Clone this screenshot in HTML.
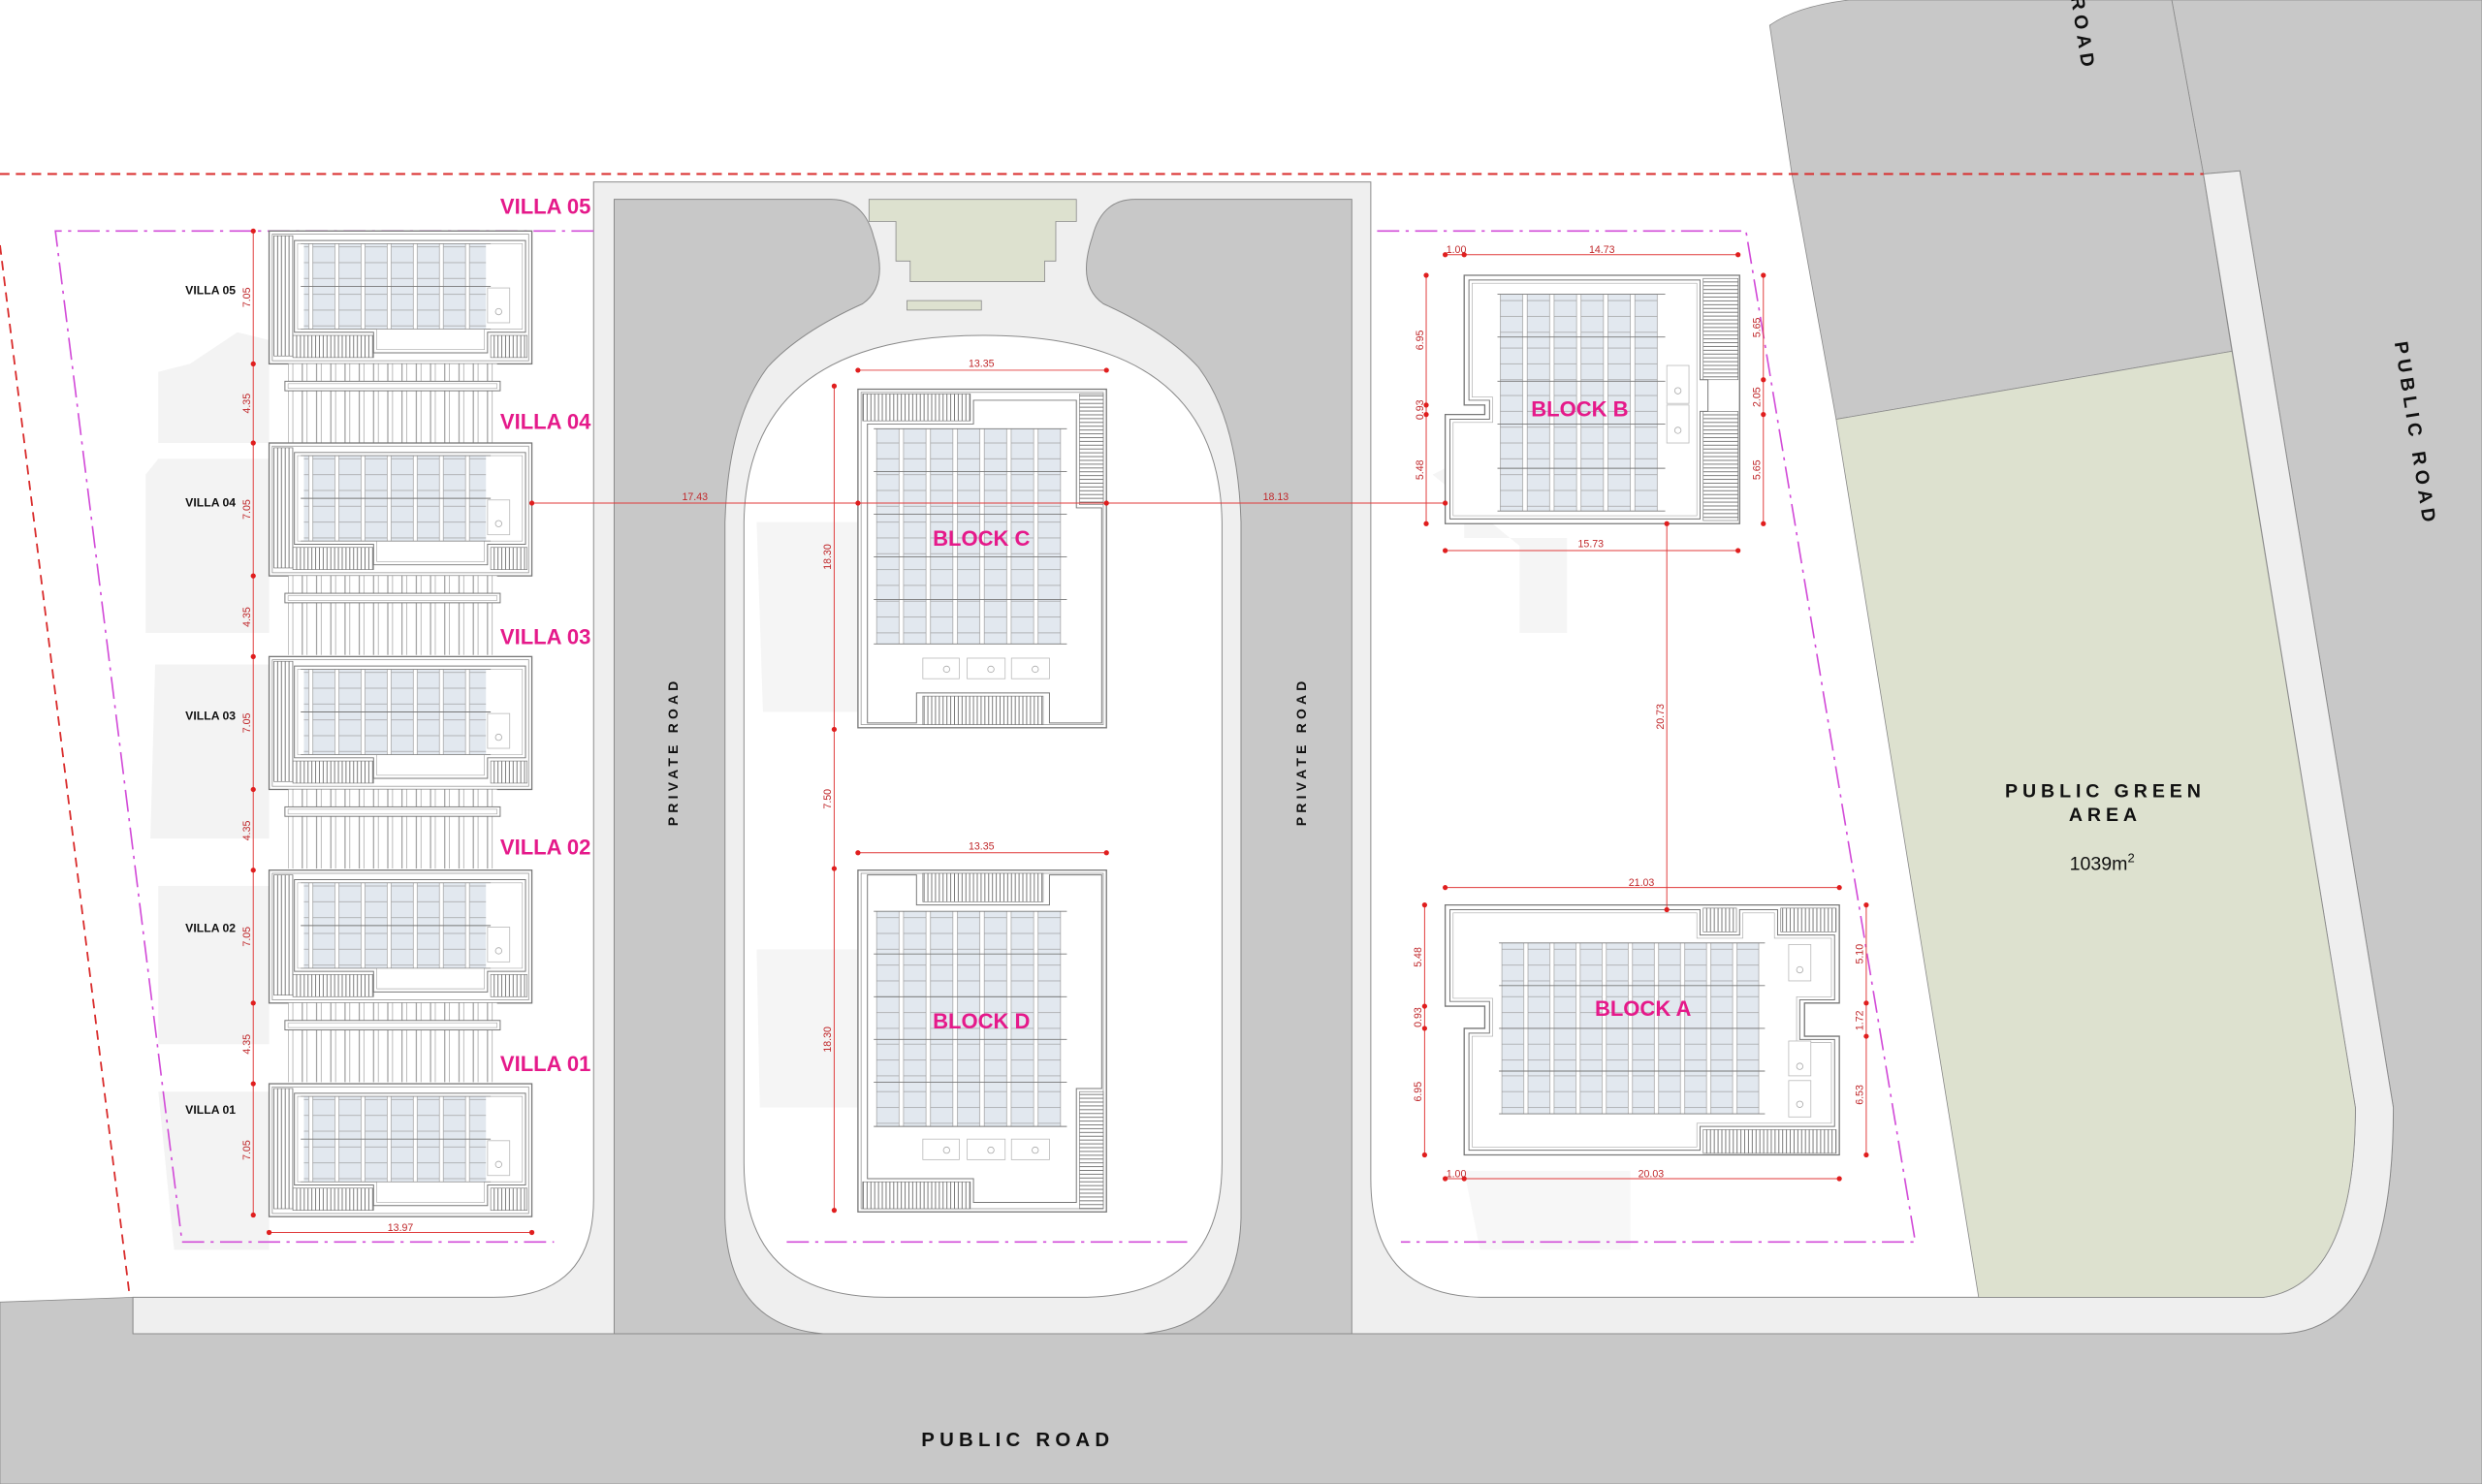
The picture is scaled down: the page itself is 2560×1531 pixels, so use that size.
<!DOCTYPE html>
<html><head><meta charset="utf-8"><style>
html,body{margin:0;padding:0;background:#fff;}
svg{display:block;}
.t{font-family:"Liberation Sans",sans-serif;}
.n{font-family:"Liberation Sans Narrow","Liberation Sans",sans-serif;}
</style></head><body>
<svg width="2560" height="1531" viewBox="0 0 1568 938" preserveAspectRatio="none" xmlns="http://www.w3.org/2000/svg">
<defs>
<pattern id="hv" width="2.4" height="4" patternUnits="userSpaceOnUse"><rect width="2.4" height="4" fill="#fff"/><line x1="0.6" y1="0" x2="0.6" y2="4" stroke="#6e6e6e" stroke-width="0.55"/></pattern>
<pattern id="hh" width="4" height="2.4" patternUnits="userSpaceOnUse"><rect width="4" height="2.4" fill="#fff"/><line x1="0" y1="0.6" x2="4" y2="0.6" stroke="#6e6e6e" stroke-width="0.55"/></pattern>
<pattern id="sl" width="9" height="4" patternUnits="userSpaceOnUse" x="182"><rect width="9" height="4" fill="#fff"/><line x1="1" y1="0" x2="1" y2="4" stroke="#888" stroke-width="0.6"/><line x1="4" y1="0" x2="4" y2="4" stroke="#999" stroke-width="0.4"/></pattern>
<pattern id="pv" width="16.5" height="10" patternUnits="userSpaceOnUse" x="192"><rect x="0.6" width="14" height="10" fill="#e2e8ef" stroke="#9a9a9a" stroke-width="0.4"/></pattern>
<pattern id="pc" width="17" height="10" patternUnits="userSpaceOnUse" x="553"><rect x="0.8" width="14.2" height="10" fill="#e2e8ef" stroke="#9a9a9a" stroke-width="0.4"/></pattern>
<pattern id="pb" width="17" height="10" patternUnits="userSpaceOnUse" x="947"><rect x="0.8" width="14.2" height="10" fill="#e2e8ef" stroke="#9a9a9a" stroke-width="0.4"/></pattern>
<pattern id="pa" width="16.5" height="10" patternUnits="userSpaceOnUse" x="948"><rect x="0.8" width="13.8" height="10" fill="#e2e8ef" stroke="#9a9a9a" stroke-width="0.4"/></pattern>
<g id="villa">
 <rect x="0" y="0" width="166" height="84" fill="#fff" stroke="#777" stroke-width="0.8"/>
 <rect x="2" y="2" width="162" height="80" fill="none" stroke="#999" stroke-width="0.5"/>
 <rect x="3" y="3" width="12" height="76" fill="url(#hv)" stroke="#777" stroke-width="0.4"/>
 <rect x="15" y="66" width="51" height="14" fill="url(#hv)" stroke="#777" stroke-width="0.4"/>
 <rect x="140" y="66" width="23" height="14" fill="url(#hv)" stroke="#777" stroke-width="0.4"/>
 <path d="M16,6 H162 V64 H138 V77 H66 V64 H16 Z" fill="#fff" stroke="#777" stroke-width="0.6"/>
 <path d="M18,8 H160 V62 H136 V75 H68 V62 H18 Z" fill="none" stroke="#aaa" stroke-width="0.4"/>
 <rect x="22" y="8" width="115" height="54" fill="url(#pv)"/>
 <line x1="20" y1="8" x2="140" y2="8" stroke="#888" stroke-width="0.5"/>
 <line x1="20" y1="35" x2="140" y2="35" stroke="#777" stroke-width="0.6"/>
 <line x1="20" y1="62" x2="140" y2="62" stroke="#888" stroke-width="0.5"/>
 <rect x="138" y="36" width="14" height="22" fill="#fff" stroke="#bbb" stroke-width="0.5"/>
 <circle cx="145" cy="51" r="2" fill="none" stroke="#aaa" stroke-width="0.5"/>
</g>
<g id="perg">
 <rect x="12" y="0" width="132" height="50" fill="url(#sl)"/>
 <rect x="10" y="11" width="136" height="6" fill="#fff" stroke="#777" stroke-width="0.6"/>
 <rect x="12" y="12.5" width="132" height="3" fill="none" stroke="#aaa" stroke-width="0.4"/>
</g>
</defs>

<rect width="1568" height="938" fill="#fff"/>

<path d="M0,823 L84,820 L84,843 H1440 Q1512,843 1512,700 L1415,108 L1392,110 L1372,0 H1568 V938 H0 Z" fill="#c8c8c8" stroke="#8a8a8a" stroke-width="0.5"/>
<path d="M1118,16 Q1135,4 1168,0 H1372 L1392,110 L1410,222 L1160,265 L1132,110 Z" fill="#c8c8c8" stroke="#8a8a8a" stroke-width="0.5"/>

<path d="M84,820 H312 Q375,820 375,758 V115 H866 V745 Q866,820 938,820 H1430 Q1488,812 1488,700 L1392,110 L1415,108 L1512,700 Q1512,843 1440,843 H84 Z" fill="#efefef" stroke="#8a8a8a" stroke-width="0.6"/>

<path d="M1160,265 L1410,222 L1488,700 Q1488,812 1430,820 L1250,820 Z" fill="#dde1cf" stroke="#8a8a8a" stroke-width="0.5"/>

<path d="M388,126 H525 Q546,126 552,150 Q562,180 545,192 Q505,210 485,232 Q460,265 458,330 V770 Q460,838 520,843 H388 Z" fill="#c8c8c8" stroke="#8a8a8a" stroke-width="0.6"/>
<path d="M854,126 H717 Q696,126 690,150 Q680,180 697,192 Q737,210 757,232 Q782,265 784,330 V770 Q782,838 722,843 H854 Z" fill="#c8c8c8" stroke="#8a8a8a" stroke-width="0.6"/>
<path d="M470,330 Q472,212 621,212 Q770,212 772,330 V735 Q772,820 682,820 H560 Q470,820 470,735 Z" fill="#fff" stroke="#8a8a8a" stroke-width="0.6"/>
<path d="M549,126 H680 V140 H667 V165 H660 V178 H575 V165 H566 V140 H549 Z" fill="#dde1cf" stroke="#8a8a8a" stroke-width="0.5"/>
<rect x="573" y="190" width="47" height="6" fill="#dde1cf" stroke="#8a8a8a" stroke-width="0.5"/>

<g fill="#f3f3f3">
 <path d="M120,230 L150,210 L170,215 V280 H100 V235 Z"/>
 <path d="M100,290 H170 V400 H92 V300 Z"/>
 <path d="M98,420 H170 V530 H95 Z"/>
 <path d="M100,560 H170 V660 H100 Z"/>
 <path d="M100,690 H170 V790 H110 Z"/>
 <path d="M478,330 H542 V450 H482 Z" fill="#f5f5f5"/>
 <path d="M478,600 H542 V700 H480 Z" fill="#f5f5f5"/>
 <path d="M905,300 L925,290 V340 H990 V400 H960 V345 Z" fill="#f5f5f5"/>
 <path d="M925,740 H1030 V790 H935 Z" fill="#f7f7f7"/>
</g>

<line x1="0" y1="110" x2="1392" y2="110" stroke="#d92b2b" stroke-width="1.2" stroke-dasharray="6,4"/>
<line x1="0" y1="155" x2="82" y2="820" stroke="#d92b2b" stroke-width="1.1" stroke-dasharray="6,4"/>
<g fill="none" stroke="#d24bd8" stroke-width="1" stroke-dasharray="14,4,2,4">
 <path d="M375,146 H35 L115,785 H350"/>
 <path d="M497,785 H750"/>
 <path d="M870,146 H1103 L1210,785 H885"/>
</g>

<use href="#villa" x="170" y="146"/>
<use href="#perg" x="170" y="230"/>
<use href="#villa" x="170" y="280"/>
<use href="#perg" x="170" y="364"/>
<use href="#villa" x="170" y="415"/>
<use href="#perg" x="170" y="499"/>
<use href="#villa" x="170" y="550"/>
<use href="#perg" x="170" y="634"/>
<use href="#villa" x="170" y="685"/>

<!-- BLOCK C -->
<rect x="542" y="246" width="157" height="214" fill="#fff" stroke="#777" stroke-width="0.8"/>
<rect x="544" y="248" width="153" height="210" fill="none" stroke="#999" stroke-width="0.5"/>
<rect x="545" y="249" width="68" height="17" fill="url(#hv)" stroke="#777" stroke-width="0.4"/>
<rect x="682" y="249" width="15" height="70" fill="url(#hh)" stroke="#777" stroke-width="0.4"/>
<rect x="583" y="440" width="76" height="18" fill="url(#hv)" stroke="#777" stroke-width="0.4"/>
<path d="M548,268 H615 V253 H680 V321 H696 V457 H663 V438 H579 V457 H548 Z" fill="#fff" stroke="#777" stroke-width="0.6"/>
<rect x="553" y="271" width="119" height="136" fill="url(#pc)"/>
<g stroke="#777" stroke-width="0.55"><line x1="552" y1="271" x2="674" y2="271"/><line x1="552" y1="298" x2="674" y2="298"/><line x1="552" y1="325" x2="674" y2="325"/><line x1="552" y1="352" x2="674" y2="352"/><line x1="552" y1="379" x2="674" y2="379"/><line x1="552" y1="407" x2="674" y2="407"/></g>
<g fill="#fff" stroke="#bbb" stroke-width="0.5"><rect x="583" y="416" width="23" height="13"/><rect x="611" y="416" width="24" height="13"/><rect x="639" y="416" width="24" height="13"/></g>
<g fill="none" stroke="#aaa" stroke-width="0.5"><circle cx="598" cy="423" r="2"/><circle cx="626" cy="423" r="2"/><circle cx="654" cy="423" r="2"/></g>
<text x="620" y="345" class="t" font-size="13.5" font-weight="bold" fill="#e5198a" text-anchor="middle">BLOCK C</text>

<!-- BLOCK D -->
<rect x="542" y="550" width="157" height="216" fill="#fff" stroke="#777" stroke-width="0.8"/>
<rect x="544" y="552" width="153" height="212" fill="none" stroke="#999" stroke-width="0.5"/>
<rect x="583" y="552" width="76" height="18" fill="url(#hv)" stroke="#777" stroke-width="0.4"/>
<rect x="545" y="747" width="68" height="17" fill="url(#hv)" stroke="#777" stroke-width="0.4"/>
<rect x="682" y="690" width="15" height="74" fill="url(#hh)" stroke="#777" stroke-width="0.4"/>
<path d="M548,553 H579 V572 H663 V553 H696 V688 H680 V760 H615 V745 H548 Z" fill="#fff" stroke="#777" stroke-width="0.6"/>
<rect x="553" y="576" width="119" height="136" fill="url(#pc)"/>
<g stroke="#777" stroke-width="0.55"><line x1="552" y1="576" x2="674" y2="576"/><line x1="552" y1="603" x2="674" y2="603"/><line x1="552" y1="630" x2="674" y2="630"/><line x1="552" y1="657" x2="674" y2="657"/><line x1="552" y1="684" x2="674" y2="684"/><line x1="552" y1="712" x2="674" y2="712"/></g>
<g fill="#fff" stroke="#bbb" stroke-width="0.5"><rect x="583" y="720" width="23" height="13"/><rect x="611" y="720" width="24" height="13"/><rect x="639" y="720" width="24" height="13"/></g>
<g fill="none" stroke="#aaa" stroke-width="0.5"><circle cx="598" cy="727" r="2"/><circle cx="626" cy="727" r="2"/><circle cx="654" cy="727" r="2"/></g>
<text x="620" y="650" class="t" font-size="13.5" font-weight="bold" fill="#e5198a" text-anchor="middle">BLOCK D</text>

<!-- BLOCK B -->
<path d="M925,174 H1099 V331 H913 V262 H938 V256 H925 Z" fill="#fff" stroke="#777" stroke-width="0.8"/>
<rect x="1076" y="176" width="22" height="64" fill="url(#hh)" stroke="#777" stroke-width="0.4"/>
<rect x="1076" y="260" width="22" height="69" fill="url(#hh)" stroke="#777" stroke-width="0.4"/>
<path d="M928,177 H1074 V240 H1079 V260 H1074 V328 H916 V265 H941 V253 H928 Z" fill="#fff" stroke="#777" stroke-width="0.6"/>
<path d="M930,179 H1072 V326 H918 V267 H943 V251 H930 Z" fill="none" stroke="#aaa" stroke-width="0.4"/>
<rect x="947" y="186" width="102" height="137" fill="url(#pb)"/>
<g stroke="#777" stroke-width="0.55"><line x1="946" y1="186" x2="1052" y2="186"/><line x1="946" y1="213" x2="1052" y2="213"/><line x1="946" y1="241" x2="1052" y2="241"/><line x1="946" y1="268" x2="1052" y2="268"/><line x1="946" y1="296" x2="1052" y2="296"/><line x1="946" y1="323" x2="1052" y2="323"/></g>
<g fill="#fff" stroke="#bbb" stroke-width="0.5"><rect x="1053" y="231" width="14" height="24"/><rect x="1053" y="256" width="14" height="24"/></g>
<g fill="none" stroke="#aaa" stroke-width="0.5"><circle cx="1060" cy="247" r="2"/><circle cx="1060" cy="272" r="2"/></g>
<text x="998" y="263" class="t" font-size="13.5" font-weight="bold" fill="#e5198a" text-anchor="middle">BLOCK B</text>

<!-- BLOCK A -->
<path d="M913,572 H1162 V634 H1140 V655 H1162 V730 H925 V650 H938 V636 H913 Z" fill="#fff" stroke="#777" stroke-width="0.8"/>
<rect x="1076" y="574" width="21" height="15" fill="url(#hv)" stroke="#777" stroke-width="0.4"/>
<rect x="1125" y="574" width="35" height="15" fill="url(#hv)" stroke="#777" stroke-width="0.4"/>
<rect x="1076" y="714" width="84" height="15" fill="url(#hv)" stroke="#777" stroke-width="0.4"/>
<path d="M916,575 H1074 V591 H1099 V575 H1123 V591 H1159 V632 H1137 V657 H1159 V712 H1074 V727 H928 V653 H941 V633 H916 Z" fill="#fff" stroke="#777" stroke-width="0.6"/>
<path d="M918,577 H1072 V593 H1101 V577 H1121 V593 H1157 V630 H1135 V659 H1157 V710 H1072 V725 H930 V655 H943 V631 H918 Z" fill="none" stroke="#aaa" stroke-width="0.4"/>
<rect x="948" y="596" width="165" height="108" fill="url(#pa)"/>
<g stroke="#777" stroke-width="0.55"><line x1="947" y1="596" x2="1115" y2="596"/><line x1="947" y1="623" x2="1115" y2="623"/><line x1="947" y1="650" x2="1115" y2="650"/><line x1="947" y1="677" x2="1115" y2="677"/><line x1="947" y1="704" x2="1115" y2="704"/></g>
<g fill="#fff" stroke="#bbb" stroke-width="0.5"><rect x="1130" y="597" width="14" height="23"/><rect x="1130" y="658" width="14" height="22"/><rect x="1130" y="683" width="14" height="23"/></g>
<g fill="none" stroke="#aaa" stroke-width="0.5"><circle cx="1137" cy="613" r="2"/><circle cx="1137" cy="674" r="2"/><circle cx="1137" cy="698" r="2"/></g>
<text x="1038" y="642" class="t" font-size="13.5" font-weight="bold" fill="#e5198a" text-anchor="middle">BLOCK A</text>

<g stroke="#e03a3a" stroke-width="0.6" fill="none">
 <line x1="160" y1="146" x2="160" y2="768"/>
 <line x1="170" y1="779" x2="336" y2="779"/>
 <line x1="336" y1="318" x2="913" y2="318"/>
 <line x1="527" y1="244" x2="527" y2="765"/>
 <line x1="542" y1="234" x2="699" y2="234"/>
 <line x1="542" y1="539" x2="699" y2="539"/>
 <line x1="913" y1="161" x2="1098" y2="161"/>
 <line x1="913" y1="348" x2="1098" y2="348"/>
 <line x1="901" y1="174" x2="901" y2="331"/>
 <line x1="1114" y1="174" x2="1114" y2="331"/>
 <line x1="1053" y1="331" x2="1053" y2="575"/>
 <line x1="913" y1="561" x2="1162" y2="561"/>
 <line x1="913" y1="745" x2="1162" y2="745"/>
 <line x1="900" y1="572" x2="900" y2="730"/>
 <line x1="1179" y1="572" x2="1179" y2="730"/>
</g>
<g fill="#e01e1e">
 <circle cx="160" cy="146" r="1.6"/><circle cx="160" cy="230" r="1.6"/><circle cx="160" cy="280" r="1.6"/><circle cx="160" cy="364" r="1.6"/><circle cx="160" cy="415" r="1.6"/><circle cx="160" cy="499" r="1.6"/><circle cx="160" cy="550" r="1.6"/><circle cx="160" cy="634" r="1.6"/><circle cx="160" cy="685" r="1.6"/><circle cx="160" cy="768" r="1.6"/>
 <circle cx="170" cy="779" r="1.6"/><circle cx="336" cy="779" r="1.6"/>
 <circle cx="336" cy="318" r="1.6"/><circle cx="542" cy="318" r="1.6"/><circle cx="699" cy="318" r="1.6"/><circle cx="913" cy="318" r="1.6"/>
 <circle cx="527" cy="244" r="1.6"/><circle cx="527" cy="461" r="1.6"/><circle cx="527" cy="549" r="1.6"/><circle cx="527" cy="765" r="1.6"/>
 <circle cx="542" cy="234" r="1.6"/><circle cx="699" cy="234" r="1.6"/><circle cx="542" cy="539" r="1.6"/><circle cx="699" cy="539" r="1.6"/>
 <circle cx="913" cy="161" r="1.6"/><circle cx="925" cy="161" r="1.6"/><circle cx="1098" cy="161" r="1.6"/>
 <circle cx="913" cy="348" r="1.6"/><circle cx="1098" cy="348" r="1.6"/>
 <circle cx="901" cy="174" r="1.6"/><circle cx="901" cy="256" r="1.6"/><circle cx="901" cy="262" r="1.6"/><circle cx="901" cy="331" r="1.6"/>
 <circle cx="1114" cy="174" r="1.6"/><circle cx="1114" cy="240" r="1.6"/><circle cx="1114" cy="262" r="1.6"/><circle cx="1114" cy="331" r="1.6"/>
 <circle cx="1053" cy="331" r="1.6"/><circle cx="1053" cy="575" r="1.6"/>
 <circle cx="913" cy="561" r="1.6"/><circle cx="1162" cy="561" r="1.6"/>
 <circle cx="913" cy="745" r="1.6"/><circle cx="925" cy="745" r="1.6"/><circle cx="1162" cy="745" r="1.6"/>
 <circle cx="900" cy="572" r="1.6"/><circle cx="900" cy="636" r="1.6"/><circle cx="900" cy="650" r="1.6"/><circle cx="900" cy="730" r="1.6"/>
 <circle cx="1179" cy="572" r="1.6"/><circle cx="1179" cy="634" r="1.6"/><circle cx="1179" cy="655" r="1.6"/><circle cx="1179" cy="730" r="1.6"/>
</g>
<g class="n" font-size="6.5" fill="#c0282b" text-anchor="middle">
 <text transform="translate(158,188) rotate(-90)">7.05</text>
 <text transform="translate(158,255) rotate(-90)">4.35</text>
 <text transform="translate(158,322) rotate(-90)">7.05</text>
 <text transform="translate(158,390) rotate(-90)">4.35</text>
 <text transform="translate(158,457) rotate(-90)">7.05</text>
 <text transform="translate(158,525) rotate(-90)">4.35</text>
 <text transform="translate(158,592) rotate(-90)">7.05</text>
 <text transform="translate(158,660) rotate(-90)">4.35</text>
 <text transform="translate(158,727) rotate(-90)">7.05</text>
 <text x="253" y="778">13.97</text>
 <text x="439" y="316">17.43</text>
 <text x="806" y="316">18.13</text>
 <text transform="translate(525,352) rotate(-90)">18.30</text>
 <text transform="translate(525,505) rotate(-90)">7.50</text>
 <text transform="translate(525,657) rotate(-90)">18.30</text>
 <text x="620" y="232">13.35</text>
 <text x="620" y="537">13.35</text>
 <text x="920" y="160">1.00</text>
 <text x="1012" y="160">14.73</text>
 <text x="1005" y="346">15.73</text>
 <text transform="translate(899,215) rotate(-90)">6.95</text>
 <text transform="translate(899,259) rotate(-90)">0.93</text>
 <text transform="translate(899,297) rotate(-90)">5.48</text>
 <text transform="translate(1112,207) rotate(-90)">5.65</text>
 <text transform="translate(1112,251) rotate(-90)">2.05</text>
 <text transform="translate(1112,297) rotate(-90)">5.65</text>
 <text transform="translate(1051,453) rotate(-90)">20.73</text>
 <text x="1037" y="560">21.03</text>
 <text x="920" y="744">1.00</text>
 <text x="1043" y="744">20.03</text>
 <text transform="translate(898,605) rotate(-90)">5.48</text>
 <text transform="translate(898,643) rotate(-90)">0.93</text>
 <text transform="translate(898,690) rotate(-90)">6.95</text>
 <text transform="translate(1177,603) rotate(-90)">5.10</text>
 <text transform="translate(1177,645) rotate(-90)">1.72</text>
 <text transform="translate(1177,692) rotate(-90)">6.53</text>
</g>

<g class="n" font-size="7.5" font-weight="bold" fill="#111" text-anchor="middle">
 <text x="133" y="186">VILLA 05</text>
 <text x="133" y="320">VILLA 04</text>
 <text x="133" y="455">VILLA 03</text>
 <text x="133" y="589">VILLA 02</text>
 <text x="133" y="704">VILLA 01</text>
</g>
<g class="n" font-size="13.5" font-weight="bold" fill="#e5198a">
 <text x="316" y="135">VILLA 05</text>
 <text x="316" y="271">VILLA 04</text>
 <text x="316" y="407">VILLA 03</text>
 <text x="316" y="540">VILLA 02</text>
 <text x="316" y="677">VILLA 01</text>
</g>

<g class="t" font-weight="bold" fill="#111">
 <text transform="translate(428,475) rotate(-90)" font-size="8.5" letter-spacing="2.6" text-anchor="middle">PRIVATE ROAD</text>
 <text transform="translate(825,475) rotate(-90)" font-size="8.5" letter-spacing="2.6" text-anchor="middle">PRIVATE ROAD</text>
 <text x="643" y="914" font-size="12.5" letter-spacing="3.2" text-anchor="middle">PUBLIC ROAD</text>
 <text transform="translate(1522,275) rotate(81)" font-size="12" letter-spacing="3.2" text-anchor="middle">PUBLIC ROAD</text>
 <text transform="translate(1312,22) rotate(81)" font-size="12" letter-spacing="3.2" text-anchor="middle">ROAD</text>
 <text x="1330" y="504" font-size="12" letter-spacing="3" text-anchor="middle">PUBLIC GREEN</text>
 <text x="1330" y="519" font-size="12" letter-spacing="3" text-anchor="middle">AREA</text>
</g>
<text x="1328" y="550" class="t" font-size="12" fill="#111" text-anchor="middle">1039m<tspan font-size="8" dy="-5">2</tspan></text>
</svg>
</body></html>
